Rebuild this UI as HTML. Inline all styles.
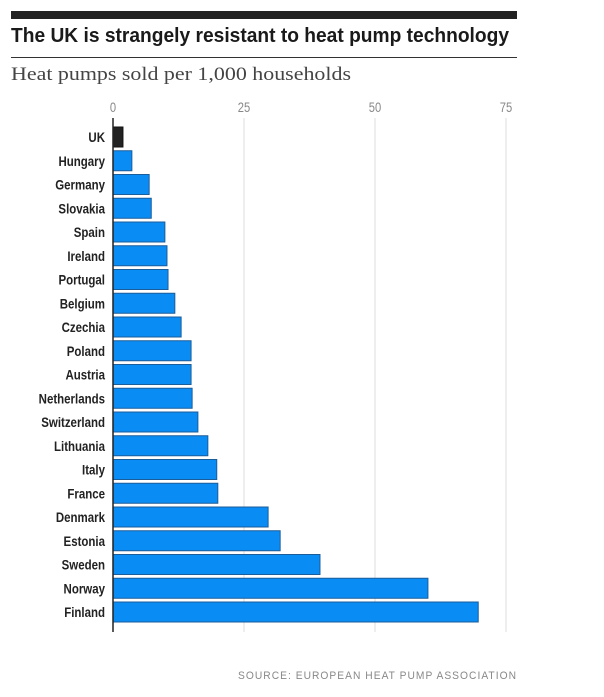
<!DOCTYPE html>
<html><head><meta charset="utf-8"><style>
body{margin:0;background:#fff;width:604px;height:692px;overflow:hidden;font-family:"Liberation Sans",sans-serif}
</style></head><body>
<svg width="604" height="692">
<rect x="11" y="11" width="506" height="8" fill="#222"/>
<text x="11" y="42" font-size="20" font-weight="bold" fill="#1a1a1a" textLength="498" lengthAdjust="spacingAndGlyphs">The UK is strangely resistant to heat pump technology</text>
<rect x="11" y="57" width="506" height="1" fill="#333"/>
<text x="11" y="80" font-family="Liberation Serif,serif" font-size="19" fill="#444" textLength="340" lengthAdjust="spacingAndGlyphs">Heat pumps sold per 1,000 households</text>
<g id="grid"></g><g id="bars"></g>
<text x="517" y="679" text-anchor="end" font-size="11" fill="#888" letter-spacing="1.1" textLength="279" lengthAdjust="spacingAndGlyphs">SOURCE: EUROPEAN HEAT PUMP ASSOCIATION</text>
</svg>
<script>
const countries=["UK","Hungary","Germany","Slovakia","Spain","Ireland","Portugal","Belgium","Czechia","Poland","Austria","Netherlands","Switzerland","Lithuania","Italy","France","Denmark","Estonia","Sweden","Norway","Finland"];
const values=[1.9,3.6,6.9,7.3,9.9,10.3,10.5,11.8,13,14.9,14.9,15.1,16.2,18.1,19.8,20,29.6,31.9,39.5,60.1,69.7];
const ticks=[0,25,50,75];
const NS="http://www.w3.org/2000/svg";
const x=v=>113+v*5.24;
const y=i=>127+i*23.75;
const grid=document.getElementById('grid'),bars=document.getElementById('bars');
function mk(tag,attrs,parent,txt){const e=document.createElementNS(NS,tag);for(const k in attrs)e.setAttribute(k,attrs[k]);if(txt!=null)e.textContent=txt;parent.appendChild(e);return e;}
ticks.forEach(t=>{
  if(t>0){const l=mk('line',{x1:x(t),x2:x(t),y1:118,y2:632,stroke:'#ddd','stroke-width':1},grid);
  
  }
  const g=mk('g',{transform:`translate(${x(t)},112) scale(0.8,1)`},grid);
  const tx=mk('text',{x:0,y:0,'text-anchor':'middle','font-size':14,fill:'#888'},g,t);
  
  
});
countries.forEach((c,i)=>{
  const r=mk('rect',{x:113,y:y(i),width:x(values[i])-113,height:20,fill:i===0?'#222':'#0a8cf5',stroke:i===0?'#111':'#1b5d99','stroke-width':1},bars);
  
  
  const g=mk('g',{transform:`translate(105,${y(i)+15}) scale(0.82,1)`},bars);
  const t=mk('text',{x:0,y:0,'text-anchor':'end','font-size':14,'font-weight':'bold',fill:'#222'},g,c);
  
  
});
const ax=mk('line',{x1:113,x2:113,y1:118,y2:632,stroke:'#222','stroke-width':1.5},bars);


</script>
</body></html>
